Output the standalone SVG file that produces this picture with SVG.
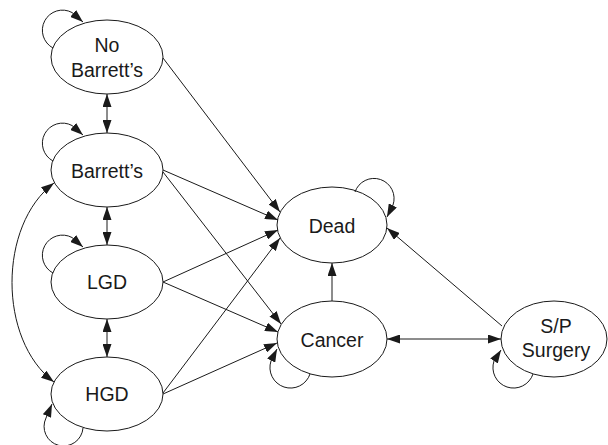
<svg xmlns="http://www.w3.org/2000/svg" width="608" height="445" viewBox="0 0 608 445">
<defs>
<marker id="ah" markerWidth="13" markerHeight="9" refX="13" refY="4.5" orient="auto-start-reverse" markerUnits="userSpaceOnUse">
<path d="M0,0 L13,4.5 L0,9 z" fill="#1a1a1a"/>
</marker>
<style>
.n{fill:#fff;stroke:#1a1a1a;stroke-width:1}
.t{font-family:"Liberation Sans",Arial,sans-serif;font-size:19.5px;fill:#1a1a1a;text-anchor:middle}
.e{fill:none;stroke:#1a1a1a;stroke-width:1;marker-end:url(#ah)}
.d{marker-start:url(#ah)}
</style>
</defs>
<rect width="608" height="445" fill="#fff"/>
<g id="no-barretts">
<ellipse class="n" cx="107" cy="57" rx="56" ry="37"/>
<text class="t" x="107" y="52">No</text>
<text class="t" x="107" y="77">Barrett’s</text>
</g>
<g id="barretts">
<ellipse class="n" cx="107" cy="170" rx="56" ry="37"/>
<text class="t" x="107" y="178">Barrett’s</text>
</g>
<g id="lgd">
<ellipse class="n" cx="107" cy="282" rx="56" ry="37"/>
<text class="t" x="107" y="289">LGD</text>
</g>
<g id="hgd">
<ellipse class="n" cx="107" cy="394" rx="56" ry="37"/>
<text class="t" x="107" y="401">HGD</text>
</g>
<g id="dead">
<ellipse class="n" cx="332" cy="225" rx="55" ry="38"/>
<text class="t" x="332" y="233">Dead</text>
</g>
<g id="cancer">
<ellipse class="n" cx="332" cy="339" rx="55" ry="38"/>
<text class="t" x="332" y="347">Cancer</text>
</g>
<g id="sp-surgery">
<ellipse class="n" cx="554" cy="339" rx="53" ry="38"/>
<text class="t" x="556" y="333">S/P</text>
<text class="t" x="556" y="357">Surgery</text>
</g>
<g id="connectors">
<path class="e" d="M53,48 A20,20 0 1 1 72,12.5 L83,22"/>
<path class="e" d="M53,161 A20,20 0 1 1 72,125.5 L83,135"/>
<path class="e" d="M53,273 A20,20 0 1 1 72,237.5 L83,247"/>
<path class="e" d="M83,428 A19.5,19.5 0 1 1 46,418 L52,404"/>
<path class="e" d="M310,374 A20,20 0 1 1 271,361 L277,349"/>
<path class="e" d="M533,374 A20,20 0 1 1 494,361 L501,350"/>
<path class="e" d="M355,192 A20,20 0 1 1 393,205 L387,217"/>
<path class="e d" d="M107,94 L107,133"/>
<path class="e d" d="M107,207 L107,245"/>
<path class="e d" d="M107,319 L107,357"/>
<path class="e d" d="M54,183 C-2,225 -2,340 54,382"/>
<path class="e" d="M163,58 L280,212"/>
<path class="e" d="M163,170 L278,220"/>
<path class="e" d="M163,172 L281,324"/>
<path class="e" d="M163,282 L278,230"/>
<path class="e" d="M163,282 L278,332"/>
<path class="e" d="M163,393 L280,238"/>
<path class="e" d="M163,394 L277,343"/>
<path class="e" d="M332,301 L332,263"/>
<path class="e d" d="M387,339 L501,339"/>
<path class="e" d="M502,326 L387,228"/>
</g>
</svg>
